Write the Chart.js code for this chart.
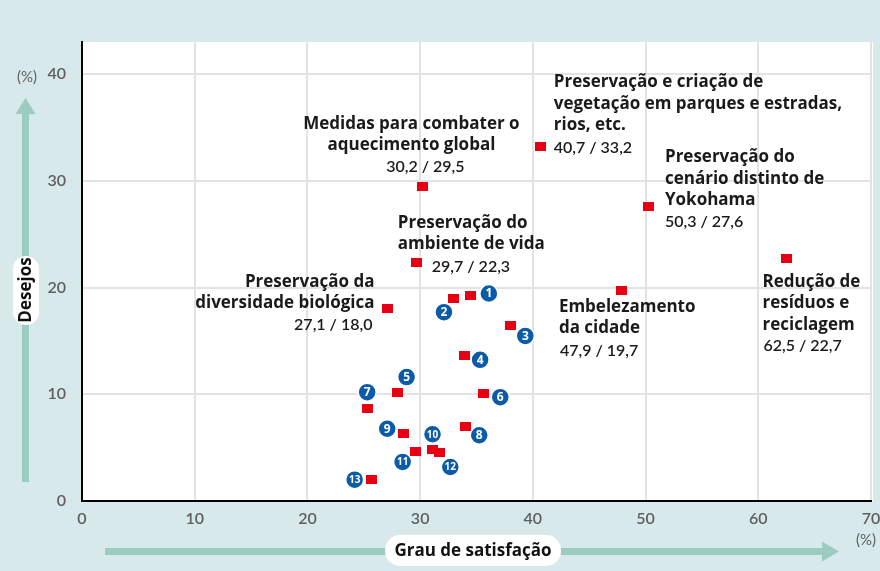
<!DOCTYPE html>
<html lang="pt">
<head>
<meta charset="utf-8">
<script src="https://cdn.jsdelivr.net/npm/chart.js@4.4.1/dist/chart.umd.min.js"></script>
<style>
html, body { margin: 0; padding: 0; background: #d8e9eb; }
#wrap { width: 880px; height: 571px; position: relative; }
</style>
</head>
<body>
<div id="wrap"><canvas id="chart"></canvas></div>
<script>
// Grau de satisfação (x) x Desejos (y), em %
const namedItems = [
    ['Preservação e criação de', 'vegetação em parques e estradas,', 'rios, etc.'],
    ['Medidas para combater o', 'aquecimento global'],
    ['Preservação do', 'ambiente de vida'],
    ['Preservação da', 'diversidade biológica'],
    ['Preservação do', 'cenário distinto de', 'Yokohama'],
    ['Embelezamento', 'da cidade'],
    ['Redução de', 'resíduos e', 'reciclagem']
];
const namedSatisfaction = [40.7, 30.2, 29.7, 27.1, 50.3, 47.9, 62.5];
const namedWishes = [33.2, 29.5, 22.3, 18.0, 27.6, 19.7, 22.7];

// items numbered 1 to 13
const numberedItems = [1, 2, 3, 4, 5, 6, 7, 8, 9, 10, 11, 12, 13];
const numberedSatisfaction = [34.5, 33.0, 38.0, 33.9, 28.0, 35.6, 25.3, 34.0, 28.5, 31.1, 29.6, 31.7, 25.7];
const numberedWishes = [19.25, 19.0, 16.4, 13.6, 10.2, 10.1, 8.7, 7.0, 6.3, 4.85, 4.6, 4.5, 2.0];

const xTicks = [0, 10, 20, 30, 40, 50, 60, 70];
const yTicks = [0, 10, 20, 30, 40];

// where the texts sit, in pixels from the marker
const labelPlacement = [
    { dx: 13, dy: -64, align: 'left', vdx: 13, vdy: 1, valign: 'left' },
    { dx: -11, dy: -62, align: 'center', vdx: 3, vdy: -19, valign: 'center' },
    { dx: -19, dy: -40, align: 'left', vdx: 15, vdy: 4, valign: 'left' },
    { dx: -13, dy: -27, align: 'right', vdx: -15, vdy: 16, valign: 'right' },
    { dx: 16, dy: -49, align: 'left', vdx: 16, vdy: 15, valign: 'left' },
    { dx: -63, dy: 16, align: 'left', vdx: -62, vdy: 60, valign: 'left' },
    { dx: -24, dy: 23, align: 'left', vdx: -23, vdy: 87, valign: 'left' }
];
const badgeOffset = [
    [18, -2], [-10, 14], [15, 10], [16, 4], [9, -15], [17, 4], [0, -16],
    [14, 9], [-16, -5], [0, -15], [-13, 10], [11, 14], [-17, 0]
];

const RED = '#e60012';
const BLUE = '#0c5ba8';
const TEAL = '#9ccbbf';
const FONT = 'Lato, "Open Sans", sans-serif';
const TITLE_FONT = '"Open Sans", Lato, sans-serif';

// red square marker
const marker = document.createElement('canvas');
marker.width = 11;
marker.height = 9;
const mctx = marker.getContext('2d');
mctx.fillStyle = RED;
mctx.fillRect(0, 0, 11, 9);

function fmt(v) {
    return v.toFixed(1).replace('.', ',');
}

function roundRect(ctx, x, y, w, h, r) {
    ctx.beginPath();
    ctx.moveTo(x + r, y);
    ctx.lineTo(x + w - r, y);
    ctx.arcTo(x + w, y, x + w, y + r, r);
    ctx.lineTo(x + w, y + h - r);
    ctx.arcTo(x + w, y + h, x + w - r, y + h, r);
    ctx.lineTo(x + r, y + h);
    ctx.arcTo(x, y + h, x, y + h - r, r);
    ctx.lineTo(x, y + r);
    ctx.arcTo(x, y, x + r, y, r);
    ctx.closePath();
}

const decorations = {
    id: 'decorations',
    beforeDraw(chart) {
        const { ctx, chartArea } = chart;
        ctx.save();
        ctx.fillStyle = '#d8e9eb';
        ctx.fillRect(0, 0, chart.width, chart.height);
        ctx.fillStyle = '#ffffff';
        ctx.fillRect(chartArea.left, chartArea.top, chartArea.right - chartArea.left + 2, chartArea.bottom - chartArea.top);
        ctx.restore();
    },
    afterDatasetsDraw(chart) {
        const ctx = chart.ctx;
        ctx.save();
        ctx.textBaseline = 'middle';

        // named item labels
        const named = chart.getDatasetMeta(0).data;
        named.forEach((pt, i) => {
            const p = labelPlacement[i];
            ctx.fillStyle = '#1a1a1a';
            ctx.font = 'bold 17px ' + TITLE_FONT;
            ctx.textAlign = p.align;
            namedItems[i].forEach((line, j) => {
                ctx.fillText(line, pt.x + p.dx, pt.y + p.dy + j * 21.5);
            });
            ctx.font = '600 16px ' + FONT;
            ctx.textAlign = p.valign;
            ctx.fillText(fmt(namedSatisfaction[i]) + ' / ' + fmt(namedWishes[i]), pt.x + p.vdx, pt.y + p.vdy);
        });

        // numbered badges
        const numbered = chart.getDatasetMeta(1).data;
        numbered.forEach((pt, i) => {
            const cx = pt.x + badgeOffset[i][0];
            const cy = pt.y + badgeOffset[i][1];
            ctx.beginPath();
            ctx.arc(cx, cy, 9, 0, Math.PI * 2);
            ctx.fillStyle = BLUE;
            ctx.fill();
            ctx.lineWidth = 1.5;
            ctx.strokeStyle = '#ffffff';
            ctx.stroke();
            ctx.fillStyle = '#ffffff';
            ctx.textAlign = 'center';
            ctx.font = 'bold ' + (numberedItems[i] > 9 ? 10 : 12) + 'px ' + TITLE_FONT;
            ctx.fillText(String(numberedItems[i]), cx, cy + 0.5);
        });
        ctx.restore();
    },
    afterDraw(chart) {
        const ctx = chart.ctx;
        ctx.save();
        ctx.fillStyle = TEAL;

        // vertical arrow
        ctx.fillRect(22, 113, 7, 369);
        ctx.beginPath();
        ctx.moveTo(25.5, 98);
        ctx.lineTo(35.5, 114);
        ctx.lineTo(15.5, 114);
        ctx.closePath();
        ctx.fill();

        // horizontal arrow
        ctx.fillRect(105, 548, 718, 7);
        ctx.beginPath();
        ctx.moveTo(839, 551.5);
        ctx.lineTo(822, 541.5);
        ctx.lineTo(822, 561.5);
        ctx.closePath();
        ctx.fill();

        // pills with axis titles
        ctx.fillStyle = '#ffffff';
        roundRect(ctx, 13, 256, 26, 69, 13);
        ctx.fill();
        roundRect(ctx, 385, 535, 176, 31, 15);
        ctx.fill();

        ctx.fillStyle = '#111111';
        ctx.font = 'bold 17px ' + TITLE_FONT;
        ctx.textAlign = 'center';
        ctx.textBaseline = 'middle';
        ctx.fillText('Grau de satisfação', 473, 551);
        ctx.save();
        ctx.translate(26, 290);
        ctx.rotate(-Math.PI / 2);
        ctx.fillText('Desejos', 0, 0);
        ctx.restore();

        // unit marks
        ctx.fillStyle = '#5e5e5e';
        ctx.font = '15px ' + FONT;
        ctx.fillText('(%)', 27, 77);
        ctx.fillText('(%)', 866, 540);
        ctx.restore();
    }
};

const ctx = document.getElementById('chart').getContext('2d');
new Chart(ctx, {
    type: 'scatter',
    data: {
        datasets: [
            {
                label: 'itens com nome',
                data: namedSatisfaction.map((v, i) => ({ x: v, y: namedWishes[i] })),
                pointStyle: marker,
                pointRadius: 6
            },
            {
                label: 'itens numerados',
                data: numberedSatisfaction.map((v, i) => ({ x: v, y: numberedWishes[i] })),
                pointStyle: marker,
                pointRadius: 6
            }
        ]
    },
    options: {
        responsive: true,
        maintainAspectRatio: false,
        animation: false,
        events: [],
        layout: { padding: { top: 42, right: 0, left: 0, bottom: 0 } },
        plugins: {
            legend: { display: false },
            tooltip: { enabled: false }
        },
        scales: {
            x: {
                type: 'linear',
                min: xTicks[0],
                max: xTicks[xTicks.length - 1],
                afterBuildTicks: scale => { scale.ticks = xTicks.map(v => ({ value: v })); },
                afterFit: scale => {
                    scale.height = 70;
                    scale.paddingLeft = 0;
                    scale.paddingRight = 9;
                },
                ticks: { color: '#5e5e5e', font: { family: FONT, size: 16, weight: '600' }, padding: 8 },
                grid: { color: '#e3e3e3', lineWidth: 2, drawTicks: false },
                border: { color: '#000000', width: 2 }
            },
            y: {
                type: 'linear',
                min: 0,
                max: 43,
                afterBuildTicks: scale => { scale.ticks = yTicks.map(v => ({ value: v })); },
                afterFit: scale => {
                    scale.width = 82;
                    scale.paddingTop = 0;
                    scale.paddingBottom = 0;
                },
                ticks: { color: '#5e5e5e', font: { family: FONT, size: 16, weight: '600' }, padding: 16 },
                grid: { color: '#e3e3e3', lineWidth: 2, drawTicks: false },
                border: { color: '#000000', width: 2 }
            }
        }
    },
    plugins: [decorations]
});
</script>
</body>
</html>
